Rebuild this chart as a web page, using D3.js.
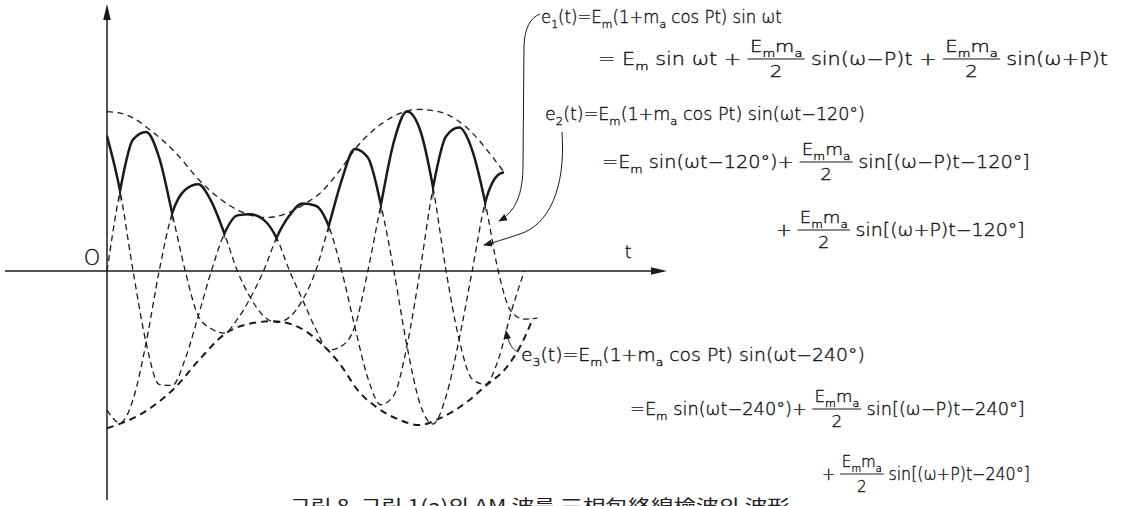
<!DOCTYPE html>
<html><head><meta charset="utf-8">
<script src="https://cdn.jsdelivr.net/npm/d3@7"></script>
<style>
html,body{margin:0;padding:0;background:#fff;}
svg{display:block;}
.eq{font-family:"DejaVu Sans","Liberation Sans",sans-serif;font-weight:200;fill:#111;stroke:#111;stroke-width:0.35;}
</style></head><body>
<svg id="chart" width="1139" height="506"></svg>
<script>
// ---- data (carrier phase ωt in degrees; amplitude in units where Em = 100) ----
const thetaDeg = [0,30,60,90,120,150,180,210,240,270,300,330,360,390,420,450,480,510,540,570,600,630,660,690,720,750,780,810,840,870,900,930,960,990];
const e1Values = [0,75,123,130,106,54,0,-42,-54,-58,-45,-25,0,31,52,63,61,42,0,-52,-100,-125,-116,-70,0,78,126,134,113,64,0,-38,-45,-44];
const e2Theta  = [0,30,60,90,120,150,180,210,240,270,300,330,360,390,420,450,480,510,540,570,600,630,660,690,720,750,780,810,840,870,900,912];
const e2Values = [-130,-142,-120,-67,0,54,76,81,65,35,0,-25,-42,-48,-43,-27,0,42,85,114,106,62,0,-70,-124,-143,-117,-64,0,64,90,92];
const e3Theta  = [0,30,60,90,120,150,180,210,240,270,300,330,360,390,420,450,480,510,540,570,600,630,660,690,720,750,780,810,840,870,900,930,960];
const e3Values = [126,75,0,-67,-106,-107,-82,-42,0,35,52,53,48,31,0,-27,-54,-74,-70,-52,0,62,121,149,132,78,0,-64,-101,-106,-83,-38,0];
const envUpperTheta  = [0,44,108,159,212,258,311,366,426,460,488,541,573,633,718,771,833,886,914];
const envUpperValues = [149,146,129,110,85,68,55,50,56,64,72,97,115,138,151,148,132,107,92];
const envLowerTheta  = [0,81,159,212,274,320,380,426,488,534,580,619,672,718,764,826,872,919,955,980];
const envLowerValues = [-147,-133,-108,-83,-58,-50,-47,-50,-66,-86,-113,-127,-139,-144,-138,-123,-107,-90,-67,-44];
// detector output: which phase is largest between successive cusps
const cuspTheta = [0,30,150,270,390,510,630,750,870,912];
const cuspPhase = ["e3","e1","e2","e3","e1","e2","e3","e1","e2"];
// ---- texts ----
const axisLabels = ["O","t"];
const eqE1 = [["e_1(t)=E_m(1+m_a cos Pt) sin ωt"],
              ["= E_m sin ωt +",{num:"E_mm_a",den:"2"},"sin(ω−P)t +",{num:"E_mm_a",den:"2"},"sin(ω+P)t"]];
const eqE2 = [["e_2(t)=E_m(1+m_a cos Pt) sin(ωt−120°)"],
              ["=E_m sin(ωt−120°)+",{num:"E_mm_a",den:"2"},"sin[(ω−P)t−120°]"],
              ["+",{num:"E_mm_a",den:"2"},"sin[(ω+P)t−120°]"]];
const eqE3 = [["e_3(t)=E_m(1+m_a cos Pt) sin(ωt−240°)"],
              ["=E_m sin(ωt−240°)+",{num:"E_mm_a",den:"2"},"sin[(ω−P)t−240°]"],
              ["+",{num:"E_mm_a",den:"2"},"sin[(ω+P)t−240°]"]];
const caption = "그림 8. 그림 1(a)의 AM 波를 三相包絡線檢波의 波形";

// ---- drawing ----
const ink = "#1b1b1b";
const svg = d3.select("#chart");
svg.append("rect").attr("width",1139).attr("height",506).attr("fill","#fff");

const x = d3.scaleLinear().domain([0,720]).range([107,420]);
const y = d3.scaleLinear().domain([-100,100]).range([378,164]);
const line = d3.line().x(d=>x(d[0])).y(d=>y(d[1])).curve(d3.curveMonotoneX);
const zip = (t,v)=>t.map((tt,i)=>[tt,v[i]]);
const series = {e1: zip(thetaDeg,e1Values), e2: zip(e2Theta,e2Values), e3: zip(e3Theta,e3Values)};

const x0 = x(0), y0 = y(0);
// axes
svg.append("line").attr("x1",5).attr("x2",656).attr("y1",y0).attr("y2",y0).attr("stroke",ink).attr("stroke-width",1.6);
svg.append("path").attr("d",`M667,${y0} L651,${y0-3.8} L651,${y0+3.8} Z`).attr("fill",ink);
svg.append("line").attr("x1",x0).attr("x2",x0).attr("y1",16).attr("y2",500).attr("stroke",ink).attr("stroke-width",1.5);
svg.append("path").attr("d",`M${x0},4 L${x0-3.8},20 L${x0+3.8},20 Z`).attr("fill",ink);

// dashed phase waves
const g = svg.append("g").attr("fill","none").attr("stroke",ink);
["e1","e2","e3"].forEach(k=>{
  g.append("path").attr("d",line(series[k])).attr("stroke-width",1.3).attr("stroke-dasharray","6,4");
});
// envelopes
g.append("path").attr("d",line(zip(envUpperTheta,envUpperValues))).attr("stroke-width",1.3).attr("stroke-dasharray","6,4.5");
g.append("path").attr("d",line(zip(envLowerTheta,envLowerValues))).attr("stroke-width",2).attr("stroke-dasharray","7,5");

// solid detector output: clip each phase between its cusps
const defs = svg.append("defs");
cuspPhase.forEach((ph,i)=>{
  const a = x(cuspTheta[i]), b = x(cuspTheta[i+1]);
  defs.append("clipPath").attr("id","seg"+i).append("rect")
    .attr("x",a-0.7).attr("width",b-a+1.4).attr("y",0).attr("height",506);
  g.append("path").attr("d",line(series[ph])).attr("clip-path",`url(#seg${i})`)
    .attr("stroke-width",2.5).attr("stroke-linejoin","round").attr("stroke-linecap","round");
});

// axis labels
svg.append("text").attr("class","eq").attr("x",92).attr("y",265).attr("text-anchor","middle")
  .attr("font-size",21).text(axisLabels[0]);
svg.append("text").attr("class","eq").attr("x",628).attr("y",258).attr("text-anchor","middle")
  .attr("font-size",17).text(axisLabels[1]);

// rich text helpers
function addRich(parent, str, xx, yb, size){
  const t = parent.append("text").attr("class","eq").attr("x",xx).attr("y",yb).attr("font-size",size);
  let buf="", pend=0;
  const sh = size*0.28;
  const flush=()=>{ if(buf){ const s=t.append("tspan").text(buf); if(pend){s.attr("dy",pend); pend=0;} buf=""; } };
  for(let i=0;i<str.length;i++){
    const c=str[i];
    if(c==="_" && i+1<str.length){
      flush();
      t.append("tspan").attr("font-size",size*0.66).attr("dy",sh+pend).text(str[i+1]);
      pend=-sh; i++; continue;
    }
    buf+=c;
  }
  flush();
  return t;
}
function layoutLine(parent, pieces, xs, yb, size, xEnd){
  const lg = parent.append("g");
  let cx = xs;
  pieces.forEach(p=>{
    if(typeof p==="string"){
      const t = addRich(lg,p,cx,yb,size);
      cx += t.node().getComputedTextLength()+5;
    } else {
      const fs = size*0.95;
      const n = addRich(lg,p.num,0,yb-13,fs);
      const d = addRich(lg,p.den,0,yb+12,fs);
      const wn = n.node().getComputedTextLength(), wd = d.node().getComputedTextLength();
      const w = Math.max(wn,wd)+4;
      n.attr("x",cx+(w-wn)/2); d.attr("x",cx+(w-wd)/2);
      lg.append("line").attr("x1",cx).attr("x2",cx+w).attr("y1",yb-6).attr("y2",yb-6)
        .attr("stroke",ink).attr("stroke-width",1);
      cx += w+5;
    }
  });
  const natural = cx-5-xs;
  const k = (xEnd-xs)/natural;
  lg.attr("transform",`translate(${xs},0) scale(${k},1) translate(${-xs},0)`);
}
const tg = svg.append("g");
const fsz = 17;
layoutLine(tg,eqE1[0],541,23,fsz,782);
layoutLine(tg,eqE1[1],598,65,fsz,1108);
layoutLine(tg,eqE2[0],545,120,fsz,865);
layoutLine(tg,eqE2[1],602,168,fsz,1030);
layoutLine(tg,eqE2[2],776,236,fsz,1025);
layoutLine(tg,eqE3[0],521,361,fsz,865);
layoutLine(tg,eqE3[1],630,415,fsz,1025);
layoutLine(tg,eqE3[2],822,480,fsz,1030);

// leader arrows
defs.append("marker").attr("id","ah").attr("viewBox","0 0 10 10").attr("refX",9).attr("refY",5)
  .attr("markerWidth",9).attr("markerHeight",9).attr("markerUnits","userSpaceOnUse").attr("orient","auto")
  .append("path").attr("d","M0,1 L10,5 L0,9 Z").attr("fill",ink);
const leaders = [
  "M540,14 C530,18 525,28 524,45 L523,165 C523,195 515,212 499,221",
  "M562,132 C566,190 548,225 520,234 C505,239 492,243 484,245",
  "M519,352 C514,351 509,346 506,331"
];
leaders.forEach(d=>svg.append("path").attr("d",d).attr("fill","none").attr("stroke",ink)
  .attr("stroke-width",1).attr("marker-end","url(#ah)"));

// caption (cut off at the bottom edge, as in the source)
svg.append("text").attr("x",290).attr("y",513).attr("font-family","'Noto Sans CJK KR',sans-serif")
  .attr("font-size",18).attr("fill","#222").attr("textLength",500).attr("lengthAdjust","spacingAndGlyphs").text(caption);
</script>
</body></html>
